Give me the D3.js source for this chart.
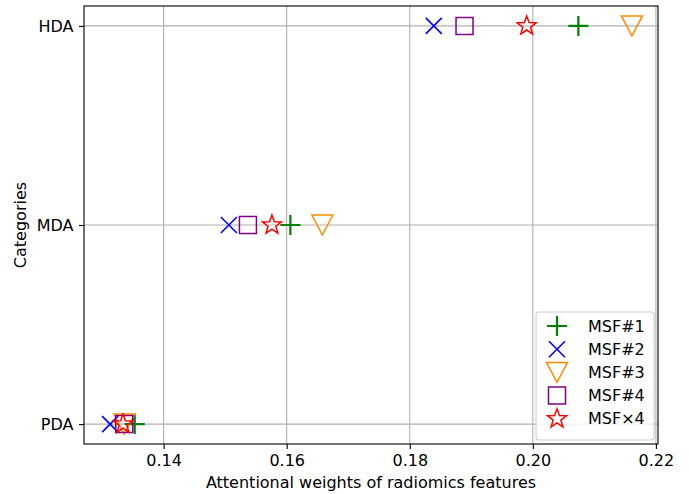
<!DOCTYPE html>
<html>
<head>
<meta charset="utf-8">
<script src="https://cdn.jsdelivr.net/npm/d3@7"></script>
<style>
  body { margin: 0; background: #fff; }
  text { font-family: "DejaVu Sans", sans-serif; }
</style>
</head>
<body>
<svg id="chart" width="689" height="494"></svg>
<script>
// categories bottom to top
var categories = ['PDA', 'MDA', 'HDA'];
var seriesNames = ['MSF#1', 'MSF#2', 'MSF#3', 'MSF#4', 'MSF\u00d74'];
// values per category (PDA, MDA, HDA)
var msf1 = [0.1353, 0.1606, 0.2074];
var msf2 = [0.1313, 0.1506, 0.1839];
var msf3 = [0.1336, 0.1658, 0.2161];
var msf4 = [0.1336, 0.1537, 0.1889];
var msfx4 = [0.1334, 0.1576, 0.1990];
var xTicks = [0.14, 0.16, 0.18, 0.20, 0.22];

var series = [msf1, msf2, msf3, msf4, msfx4];
var styles = [
  { shape: 'plus', color: '#008000' },
  { shape: 'x', color: '#0000ff' },
  { shape: 'tri', color: '#ff8c00' },
  { shape: 'square', color: '#800080' },
  { shape: 'star', color: '#ff0000' }
];

var width = 689, height = 494, fs = 16;
var margin = { top: 6, right: 31, bottom: 50, left: 84 };
var w = width - margin.left - margin.right,
  h = height - margin.top - margin.bottom;

var svg = d3.select('#chart');
var g = svg.append('g')
  .attr('transform', 'translate(' + margin.left + ',' + margin.top + ')');

// matplotlib-style 5% padding
var all = d3.merge(series);
var ext = d3.extent(all), pad = (ext[1] - ext[0]) * 0.05;
var xScale = d3.scaleLinear().domain([ext[0] - pad, ext[1] + pad]).range([0, w]);
var yScale = d3.scaleLinear().domain([-0.1, categories.length - 0.9]).range([h, 0]);

// grid
g.append('g').selectAll('line').data(xTicks).enter().append('line')
  .attr('x1', function(d) { return xScale(d); })
  .attr('x2', function(d) { return xScale(d); })
  .attr('y1', 0).attr('y2', h)
  .attr('stroke', '#b0b0b0').attr('stroke-width', 1.1);
g.append('g').selectAll('line').data(categories).enter().append('line')
  .attr('y1', function(d, i) { return yScale(i); })
  .attr('y2', function(d, i) { return yScale(i); })
  .attr('x1', 0).attr('x2', w)
  .attr('stroke', '#b0b0b0').attr('stroke-width', 1.1);

// axes
var xAxis = d3.axisBottom(xScale).tickValues(xTicks).tickFormat(d3.format('.2f'))
  .tickSize(5).tickPadding(5.5);
var yAxis = d3.axisLeft(yScale).tickValues([0, 1, 2])
  .tickFormat(function(d) { return categories[d]; })
  .tickSize(5).tickPadding(5.5);

var gx = g.append('g').attr('transform', 'translate(0,' + h + ')').call(xAxis);
var gy = g.append('g').call(yAxis);
[gx, gy].forEach(function(a) {
  a.attr('font-size', fs).attr('font-family', '"DejaVu Sans", sans-serif');
  a.select('.domain').remove();
  a.selectAll('line').attr('stroke', '#000').attr('stroke-width', 1.1);
  a.selectAll('text').attr('fill', '#000');
});

// markers
function markerPath(shape) {
  switch (shape) {
    case 'plus': return 'M-10,0H10M0,-10V10';
    case 'x': return 'M-8,-8L8,8M-8,8L8,-8';
    case 'tri': return 'M0,10L-10.5,-10L10.5,-10Z';
    case 'square': return 'M-8.5,-8.5H8.5V8.5H-8.5Z';
    case 'star':
      var pts = [];
      for (var k = 0; k < 10; k++) {
        var r = k % 2 === 0 ? 10 : 4.1;
        var a = -Math.PI / 2 + k * Math.PI / 5;
        pts.push([r * Math.cos(a), r * Math.sin(a)]);
      }
      return 'M' + pts.join('L') + 'Z';
  }
}
function strokeW(shape) {
  return shape === 'plus' ? 2.2 : shape === 'x' ? 1.6 : 1.5;
}

series.forEach(function(vals, si) {
  var st = styles[si];
  g.append('g').selectAll('path').data(vals).enter().append('path')
    .attr('transform', function(d, i) {
      return 'translate(' + xScale(d) + ',' + yScale(i) + ')';
    })
    .attr('d', markerPath(st.shape))
    .attr('fill', 'none')
    .attr('stroke', st.color)
    .attr('stroke-width', strokeW(st.shape));
});

// frame
g.append('rect').attr('width', w).attr('height', h)
  .attr('fill', 'none').attr('stroke', '#000').attr('stroke-width', 1.1);

// axis labels
svg.append('text')
  .attr('x', margin.left + w / 2).attr('y', height - 6)
  .attr('text-anchor', 'middle').attr('font-size', fs)
  .text('Attentional weights of radiomics features');
svg.append('text')
  .attr('transform', 'translate(26,' + (margin.top + h / 2) + ') rotate(-90)')
  .attr('text-anchor', 'middle').attr('font-size', fs)
  .text('Categories');

// legend
var lg = g.append('g').attr('transform', 'translate(' + (w - 122) + ',' + (h - 132) + ')');
lg.append('rect').attr('width', 118).attr('height', 128)
  .attr('rx', 3).attr('fill', '#fff').attr('fill-opacity', 0.8)
  .attr('stroke', '#cccccc').attr('stroke-width', 1.1);
seriesNames.forEach(function(name, i) {
  var st = styles[i];
  var yy = 14 + i * 23.2;
  lg.append('path')
    .attr('transform', 'translate(21,' + yy + ')')
    .attr('d', markerPath(st.shape))
    .attr('fill', 'none').attr('stroke', st.color)
    .attr('stroke-width', strokeW(st.shape));
  lg.append('text').attr('x', 52).attr('y', yy).attr('dy', '0.35em')
    .attr('font-size', fs).text(name);
});
</script>
</body>
</html>
